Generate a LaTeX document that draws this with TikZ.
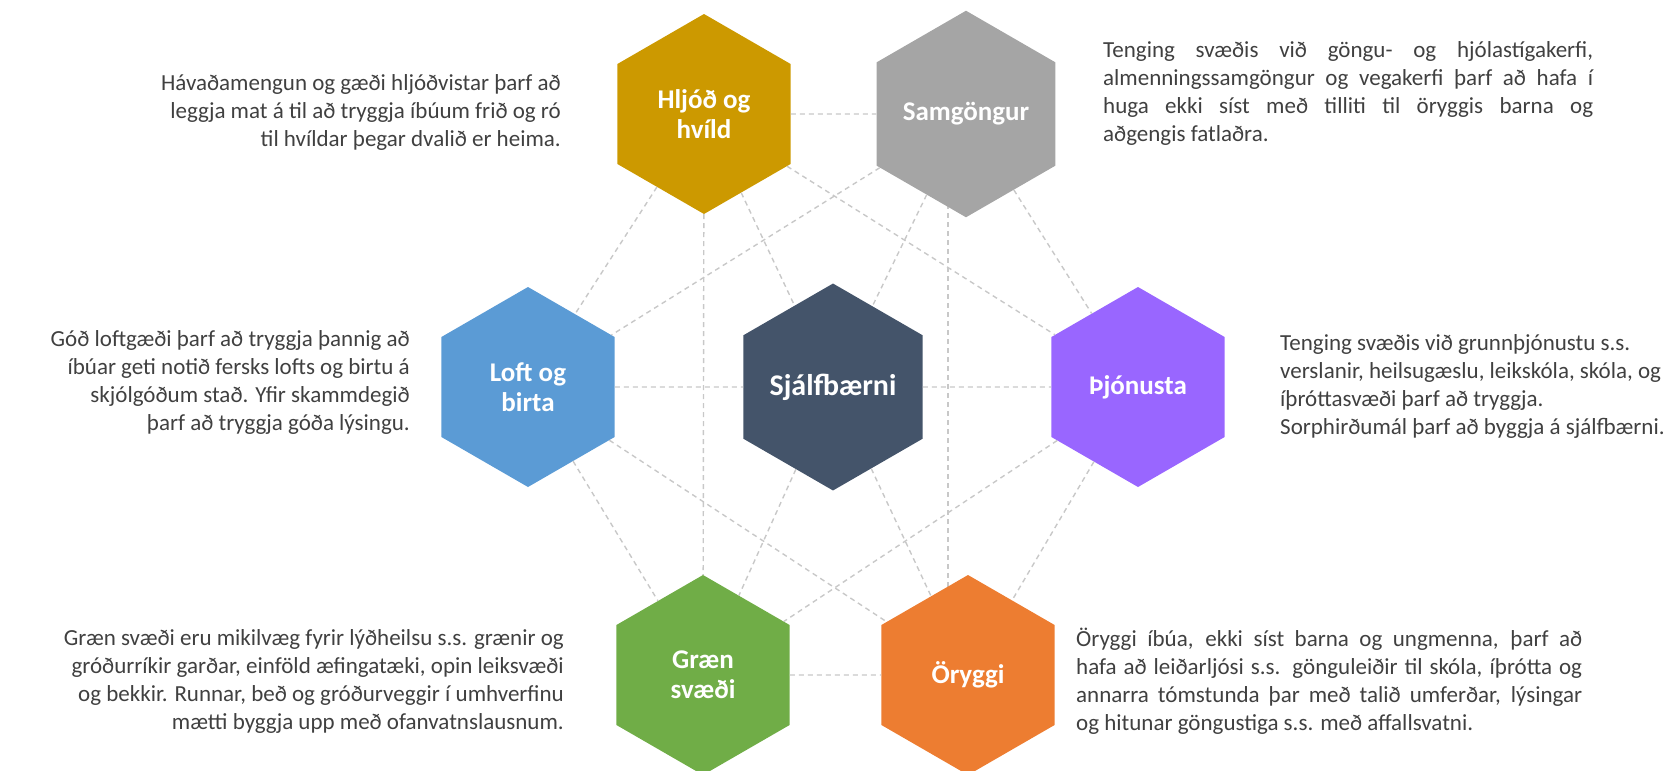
\documentclass[tikz,border=0pt]{standalone}
\usepackage{fontspec}
\setmainfont{Carlito}
\usetikzlibrary{shapes.geometric,positioning,backgrounds}

\definecolor{hljodcol}{RGB}{204,153,0}
\definecolor{samgcol}{RGB}{165,165,165}
\definecolor{loftcol}{RGB}{91,155,213}
\definecolor{sjalfcol}{RGB}{68,84,106}
\definecolor{thjoncol}{RGB}{153,102,255}
\definecolor{graencol}{RGB}{112,173,71}
\definecolor{orycol}{RGB}{237,125,49}
\definecolor{desctext}{RGB}{64,64,64}
\definecolor{linkcol}{RGB}{200,200,200}

\tikzset{
  hexa/.style={regular polygon, regular polygon sides=6, shape border rotate=30,
    minimum size=200pt, inner sep=0pt,
    text=white, align=center, font=\bfseries\fontsize{27}{30}\selectfont},
  link/.style={draw=linkcol, dash pattern=on 5pt off 4pt, line width=1.4pt},
  desc/.style={text=desctext, inner sep=0pt, font=\fontsize{23}{28}\selectfont}
}

\begin{document}
\begin{tikzpicture}[x=1pt,y=-1pt]
    \useasboundingbox (0,0) rectangle (1679,771);

    % hexagons
    \node[hexa, fill=hljodcol] (hlj) at (704,114) {Hljóð og\\hvíld};
    \node[hexa, fill=samgcol] (sam) at (966,114) {Samgöngur};
    \node[hexa, fill=loftcol] (loft) at (528,387) {Loft og\\birta};
    \node[hexa, fill=sjalfcol, font=\bfseries\fontsize{30}{33}\selectfont] (sjalf) at (833,387) {Sjálfbærni};
    \node[hexa, fill=thjoncol] (thj) at (1138,387) {Þjónusta};
    \node[hexa, fill=graencol] (graen) at (703,675) {Græn\\svæði};
    \node[hexa, fill=orycol] (ory) at (968,675) {Öryggi};

    % dashed links
    \foreach \a/\b in {hlj/sam, hlj/loft, hlj/sjalf, hlj/thj, hlj/graen,
                       sam/loft, sam/sjalf, sam/thj,
                       loft/sjalf, loft/graen, loft/ory,
                       sjalf/thj, sjalf/graen, sjalf/ory,
                       thj/graen, thj/ory, graen/ory}
        \draw[link] (\a) -- (\b);
    \begin{scope}[on background layer]
        \draw[link] ([xshift=-18pt]sam.center) -- ([xshift=-20pt]ory.center);
    \end{scope}

    % descriptions
    \node[desc, align=right, anchor=east] (hljtxt) at (561,112)
        {Hávaðamengun og gæði hljóðvistar þarf að\\
         leggja mat á til að tryggja íbúum frið og ró\\
         til hvíldar þegar dvalið er heima.};
    \node[desc, align=justify, text width=490pt, anchor=west] (samtxt) at (1103,93)
        {Tenging svæðis við göngu- og hjólastígakerfi,\linebreak
         almenningssamgöngur og vegakerfi þarf að hafa í\linebreak
         huga ekki síst með tilliti til öryggis barna og\linebreak
         aðgengis fatlaðra.};
    \node[desc, align=right, anchor=east] (lofttxt) at (410,382)
        {Góð loftgæði þarf að tryggja þannig að\\
         íbúar geti notið fersks lofts og birtu á\\
         skjólgóðum stað. Yfir skammdegið\\
         þarf að tryggja góða lýsingu.};
    \node[desc, align=left, anchor=west] (thjtxt) at (1280,386)
        {Tenging svæðis við grunnþjónustu s.s.\\
         verslanir, heilsugæslu, leikskóla, skóla, og\\
         íþróttasvæði þarf að tryggja.\\
         Sorphirðumál þarf að byggja á sjálfbærni.};
    \node[desc, align=right, anchor=east] (graentxt) at (564,681)
        {Græn svæði eru mikilvæg fyrir lýðheilsu s.s. grænir og\\
         gróðurríkir garðar, einföld æfingatæki, opin leiksvæði\\
         og bekkir. Runnar, beð og gróðurveggir í umhverfinu\\
         mætti byggja upp með ofanvatnslausnum.};
    \node[desc, align=justify, text width=506pt, anchor=west] (orytxt) at (1076,681)
        {Öryggi íbúa, ekki síst barna og ungmenna, þarf að\linebreak
         hafa að leiðarljósi s.s. gönguleiðir til skóla, íþrótta og\linebreak
         annarra tómstunda þar með talið umferðar, lýsingar\linebreak
         og hitunar göngustiga s.s. með affallsvatni.};
\end{tikzpicture}
\end{document}
